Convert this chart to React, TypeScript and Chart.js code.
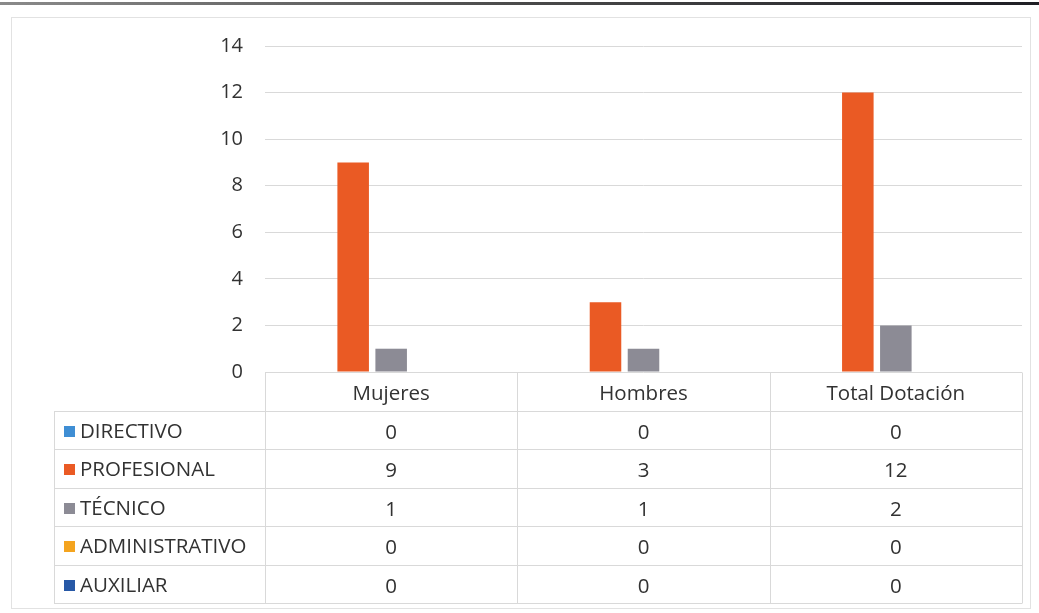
import React, { useEffect, useRef } from "react";
import { Chart, registerables } from "chart.js";

Chart.register(...registerables);

// Staff headcount by job family, split by gender
const categories = ["Mujeres", "Hombres", "Total Dotación"];
const seriesLabels = ["DIRECTIVO", "PROFESIONAL", "TÉCNICO", "ADMINISTRATIVO", "AUXILIAR"];
const directivo = [0, 0, 0];
const profesional = [9, 3, 12];
const tecnico = [1, 1, 2];
const administrativo = [0, 0, 0];
const auxiliar = [0, 0, 0];
const seriesColors = ["#3f8ed4", "#ea5a24", "#8c8b95", "#f4a41f", "#2758a6"];
const yMin = 0;
const yMax = 14;
const yStep = 2;

const FONT = "'Open Sans', 'DejaVu Sans', sans-serif";
const TEXT = "#323232";
const LINE = "#d9d9d9";

// Page background, outer frame and the dark strip along the top edge
const framePlugin = {
  id: "frame",
  beforeDraw(chart: any) {
    const { ctx, width } = chart;
    ctx.save();
    ctx.fillStyle = "#ffffff";
    ctx.fillRect(0, 0, width, chart.height);
    const g = ctx.createLinearGradient(0, 0, width, 0);
    g.addColorStop(0, "#8a8a8a");
    g.addColorStop(0.5, "#4a4a4a");
    g.addColorStop(1, "#1e1e24");
    ctx.fillStyle = g;
    ctx.fillRect(0, 2, width, 3);
    ctx.strokeStyle = "#e2e2e2";
    ctx.lineWidth = 1;
    ctx.strokeRect(11.5, 17.5, 1019, 591);
    ctx.restore();
  },
};

// Data table under the plot, with a legend key per row
const tablePlugin = {
  id: "dataTable",
  afterDraw(chart: any) {
    const { ctx, chartArea } = chart;
    const xScale = chart.scales.x;
    const datasets = chart.data.datasets;
    const tableLeft = 54;
    const top = chartArea.bottom;
    const headerH = 38.5;
    const rowH = 38.5;
    const n = categories.length;
    const colW = (chartArea.right - chartArea.left) / n;
    const bottom = top + headerH + rowH * datasets.length;
    const px = (v: number) => Math.round(v) + 0.5;

    ctx.save();
    ctx.strokeStyle = LINE;
    ctx.lineWidth = 1;
    ctx.beginPath();
    for (let r = 0; r <= datasets.length; r++) {
      const y = px(top + headerH + r * rowH);
      ctx.moveTo(tableLeft, y);
      ctx.lineTo(chartArea.right, y);
    }
    ctx.moveTo(px(tableLeft), px(top + headerH));
    ctx.lineTo(px(tableLeft), px(bottom));
    for (let c = 0; c <= n; c++) {
      const xx = px(chartArea.left + c * colW);
      ctx.moveTo(xx, px(top));
      ctx.lineTo(xx, px(bottom));
    }
    ctx.stroke();

    ctx.font = `20.5px ${FONT}`;
    ctx.fillStyle = TEXT;
    ctx.textBaseline = "middle";
    ctx.textAlign = "center";
    categories.forEach((label, i) => {
      ctx.fillText(label, xScale.getPixelForValue(i), top + headerH / 2 + 3);
    });

    datasets.forEach((ds: any, r: number) => {
      const cy = top + headerH + r * rowH + rowH / 2 + 2;
      ctx.fillStyle = ds.backgroundColor;
      ctx.fillRect(64, Math.round(cy - 6), 11, 11);
      ctx.fillStyle = TEXT;
      ctx.textAlign = "left";
      ctx.fillText(ds.label, 80, cy);
      ctx.textAlign = "center";
      ds.data.forEach((v: number, i: number) => {
        ctx.fillText(String(v), xScale.getPixelForValue(i), cy + 1);
      });
    });
    ctx.restore();
  },
};

export default function App() {
  const ref = useRef<HTMLCanvasElement>(null);

  useEffect(() => {
    document.body.style.margin = "0";
    const canvas = ref.current;
    if (!canvas) return;
    const values = [directivo, profesional, tecnico, administrativo, auxiliar];
    const chart = new Chart(canvas, {
      type: "bar",
      data: {
        labels: categories,
        datasets: seriesLabels.map((label, i) => ({
          label,
          data: values[i],
          backgroundColor: seriesColors[i],
          borderWidth: 0,
          categoryPercentage: 0.753,
          barPercentage: 0.83,
        })),
      },
      options: {
        responsive: false,
        animation: false,
        layout: { padding: { left: 0, top: 46, right: 17, bottom: 0 } },
        plugins: {
          legend: { display: false },
          tooltip: { enabled: false },
          title: { display: false },
        },
        scales: {
          x: {
            grid: { display: false },
            border: { display: false },
            ticks: { display: false },
            afterFit: (scale: any) => {
              scale.height = 241;
            },
          },
          y: {
            min: yMin,
            max: yMax,
            ticks: {
              stepSize: yStep,
              padding: 22,
              color: TEXT,
              font: { family: FONT, size: 20 },
            },
            grid: { color: LINE, lineWidth: 1, drawTicks: false },
            border: { display: false },
            afterFit: (scale: any) => {
              scale.width = 265;
            },
          },
        },
      },
      plugins: [framePlugin, tablePlugin],
    });
    return () => chart.destroy();
  }, []);

  return <canvas ref={ref} width={1039} height={613} style={{ display: "block" }} />;
}
